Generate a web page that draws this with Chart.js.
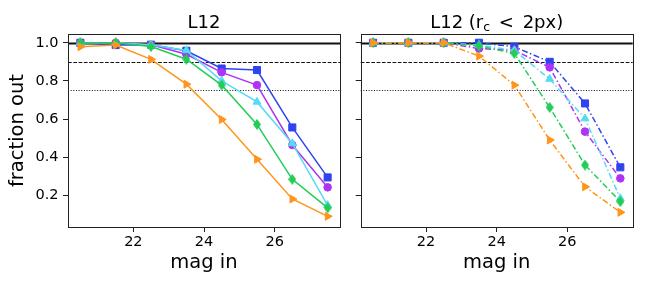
<!DOCTYPE html>
<html>
<head>
<meta charset="utf-8">
<script src="https://cdn.jsdelivr.net/npm/chart.js@4.4.0/dist/chart.umd.min.js"></script>
<style>
  body { margin: 0; background: #fff; }
  #wrap { position: relative; width: 648px; height: 288px; }
  canvas { position: absolute; top: 0; }
</style>
</head>
<body>
<div id="wrap">
  <canvas id="left" width="350" height="288" style="left:0"></canvas>
  <canvas id="right" width="298" height="288" style="left:350px"></canvas>
</div>
<script>
// ==============================
// DATA
// ==============================
const mags = [20.5, 21.5, 22.5, 23.5, 24.5, 25.5, 26.5, 27.5];
const xTicks = [22, 24, 26];
const yTicks = [0.2, 0.4, 0.6, 0.8, 1.0];
const refLevels = [1.0, 0.9, 0.75];

// L12, all sources
const allBlue   = [1.00, 0.988, 0.99, 0.958, 0.865, 0.857, 0.556, 0.294];
const allPurple = [1.00, 1.00, 0.99, 0.94, 0.845, 0.778, 0.464, 0.242];
const allCyan   = [1.00, 1.00, 0.99, 0.96, 0.80, 0.69, 0.472, 0.148];
const allGreen  = [1.00, 1.00, 0.98, 0.914, 0.778, 0.572, 0.284, 0.134];
const allOrange = [0.979, 0.988, 0.913, 0.783, 0.598, 0.389, 0.181, 0.09];

// L12, r_c < 2px
const smallBlue   = [1.00, 1.00, 1.00, 1.00, 0.979, 0.90, 0.682, 0.347];
const smallPurple = [1.00, 1.00, 1.00, 0.97, 0.96, 0.871, 0.534, 0.289];
const smallCyan   = [1.00, 1.00, 1.00, 0.988, 0.96, 0.81, 0.603, 0.184];
const smallGreen  = [1.00, 1.00, 1.00, 0.983, 0.944, 0.661, 0.359, 0.167];
const smallOrange = [1.00, 1.00, 1.00, 0.93, 0.778, 0.49, 0.245, 0.111];

const xMin = 20.15, xMax = 27.85;
const yMin = 0.034, yMax = 1.046;

// ==============================
// STYLES
// ==============================
const FONT = "'DejaVu Sans', sans-serif";
const colors = ["#2f44ee", "#ad33f5", "#55dcf2", "#22cc55", "#ff951c"];

function thinDiamond(color) {
  const c = document.createElement("canvas");
  c.width = 8; c.height = 11;
  const g = c.getContext("2d");
  g.fillStyle = color;
  g.beginPath();
  g.moveTo(4, 0); g.lineTo(8, 5.5); g.lineTo(4, 11); g.lineTo(0, 5.5);
  g.closePath();
  g.fill();
  return c;
}

const markers = [
  { pointStyle: "rect", pointRadius: 5, pointRotation: 0 },
  { pointStyle: "circle", pointRadius: 3.8, pointRotation: 0 },
  { pointStyle: "triangle", pointRadius: 4.6, pointRotation: 0 },
  { pointStyle: thinDiamond(colors[3]), pointRadius: 5, pointRotation: 0 },
  { pointStyle: "triangle", pointRadius: 4.6, pointRotation: 90 }
];

const refStyles = [
  { width: 1.8, dash: [] },
  { width: 1, dash: [3.7, 1.6] },
  { width: 1, dash: [1, 1.65] }
];

// ==============================
// PLUGINS
// ==============================
const refLinePlugin = {
  id: "refLines",
  beforeDatasetsDraw(chart) {
    const ctx = chart.ctx, area = chart.chartArea, y = chart.scales.y;
    ctx.save();
    refLevels.forEach((lvl, i) => {
      const py = Math.round(y.getPixelForValue(lvl)) + 0.5;
      ctx.strokeStyle = "#111";
      ctx.lineWidth = refStyles[i].width;
      ctx.setLineDash(refStyles[i].dash);
      ctx.beginPath();
      ctx.moveTo(area.left, py);
      ctx.lineTo(area.right, py);
      ctx.stroke();
    });
    ctx.restore();
  }
};

const framePlugin = {
  id: "frame",
  afterDatasetsDraw(chart) {
    const ctx = chart.ctx, a = chart.chartArea;
    ctx.save();
    ctx.strokeStyle = "#222";
    ctx.lineWidth = 1;
    ctx.strokeRect(Math.round(a.left) + 0.5, Math.round(a.top) + 0.5,
      Math.round(a.right - a.left), Math.round(a.bottom - a.top));
    ctx.restore();
  }
};

// title drawn in pieces so the subscript can sit lower and smaller
const titlePlugin = {
  id: "panelTitle",
  afterDraw(chart, args, opts) {
    const ctx = chart.ctx, a = chart.chartArea;
    const parts = opts.parts || [];
    ctx.save();
    ctx.fillStyle = "#000";
    ctx.textBaseline = "alphabetic";
    const widths = parts.map(p => {
      ctx.font = (p.sub ? 12.5 : 18) + "px " + FONT;
      return ctx.measureText(p.text).width + (p.gap || 0);
    });
    const total = widths.reduce((s, w) => s + w, 0);
    let x = (a.left + a.right) / 2 - total / 2;
    parts.forEach((p, i) => {
      ctx.font = (p.sub ? 12.5 : 18) + "px " + FONT;
      ctx.fillText(p.text, x, 28 + (p.sub ? 3 : 0));
      x += widths[i];
    });
    ctx.restore();
  }
};

// ==============================
// BUILD CHARTS
// ==============================
function makeDatasets(seriesList, dash) {
  return seriesList.map((vals, i) => ({
    data: mags.map((m, j) => ({ x: m, y: vals[j] })),
    borderColor: colors[i],
    backgroundColor: colors[i],
    borderWidth: 1.5,
    borderDash: dash,
    pointBorderWidth: 1,
    pointBorderColor: colors[i],
    pointBackgroundColor: colors[i],
    order: seriesList.length - 1 - i,
    ...markers[i]
  }));
}

function makeChart(id, seriesList, dash, showY, yWidth, padRight, titleParts) {
  return new Chart(document.getElementById(id), {
    type: "line",
    data: { datasets: makeDatasets(seriesList, dash) },
    options: {
      responsive: false,
      animation: false,
      events: [],
      layout: { padding: { top: 34, right: padRight, left: 0, bottom: 0 } },
      plugins: {
        legend: { display: false },
        tooltip: { enabled: false },
        panelTitle: { parts: titleParts }
      },
      scales: {
        x: {
          type: "linear",
          min: xMin, max: xMax,
          afterBuildTicks: s => { s.ticks = xTicks.map(v => ({ value: v })); },
          afterFit: s => { s.height = 61; },
          border: { display: false },
          grid: { drawOnChartArea: false, drawTicks: true, tickLength: 5, color: "#222" },
          ticks: {
            color: "#000", padding: 2, maxRotation: 0, autoSkip: false,
            font: { size: 14.5, family: FONT },
            callback: v => String(v)
          },
          title: {
            display: true, text: "mag in", color: "#000",
            font: { size: 19.5, family: FONT },
            padding: { top: 0, bottom: 13 }
          }
        },
        y: {
          type: "linear",
          min: yMin, max: yMax,
          afterBuildTicks: s => { s.ticks = yTicks.map(v => ({ value: v })); },
          afterFit: s => { s.width = yWidth; },
          border: { display: false },
          grid: { drawOnChartArea: false, drawTicks: true, tickLength: 5, color: "#222" },
          ticks: {
            display: showY, color: "#000", padding: 4.5,
            font: { size: 14.5, family: FONT },
            callback: v => v.toFixed(1)
          },
          title: {
            display: showY, text: "fraction out", color: "#000",
            font: { size: 19.5, family: FONT },
            padding: { top: 6.5, bottom: 0 }
          }
        }
      }
    },
    plugins: [refLinePlugin, framePlugin, titlePlugin]
  });
}

makeChart("left",
  [allBlue, allPurple, allCyan, allGreen, allOrange],
  [], true, 68, 10,
  [{ text: "L12" }]);

makeChart("right",
  [smallBlue, smallPurple, smallCyan, smallGreen, smallOrange],
  [6, 2.5, 1.5, 2.5], false, 10.7, 15.3,
  [{ text: "L12 (r" }, { text: "c", sub: true, gap: 3 }, { text: " < ", gap: 3 }, { text: "2px)" }]);
</script>
</body>
</html>
